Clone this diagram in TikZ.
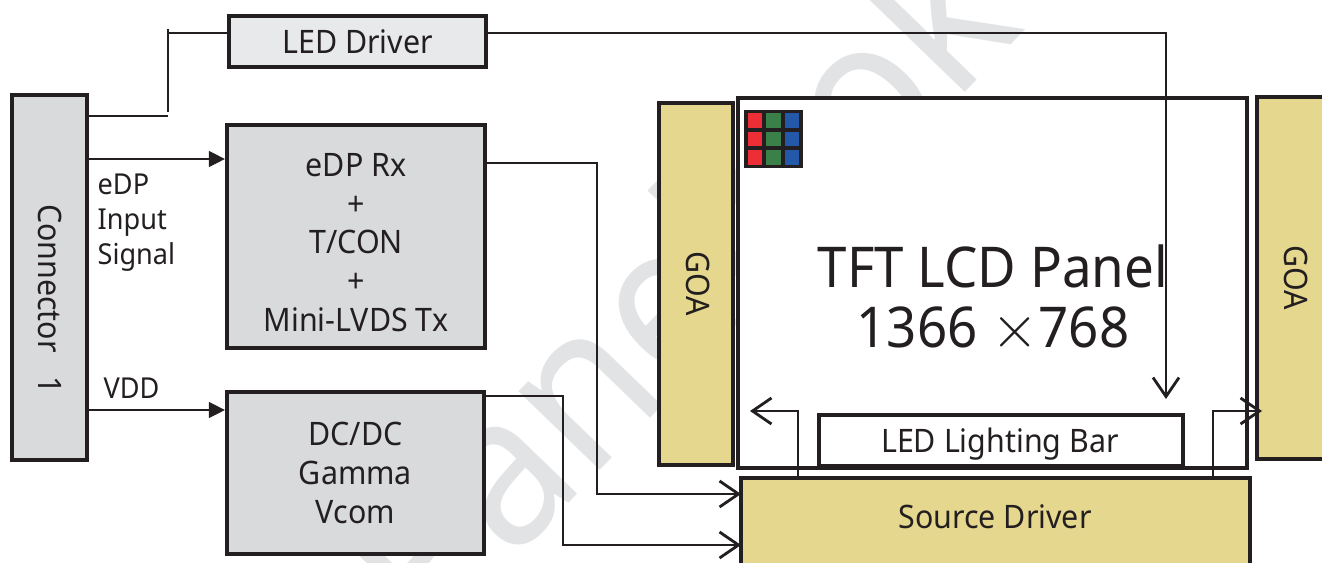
\documentclass[tikz,border=0pt]{standalone}
\usepackage{fontspec}
\usepackage{amsmath}
\setmainfont[FakeStretch=0.94]{Noto Sans}
\usetikzlibrary{arrows.meta}
\definecolor{boxgray}{HTML}{D9DADC}
\definecolor{lightgray}{HTML}{E8E9EB}
\definecolor{goa}{HTML}{E6D78E}
\definecolor{ink}{HTML}{231F20}
\definecolor{mark}{HTML}{E2E3E5}
\definecolor{cellred}{HTML}{EE2E37}
\definecolor{cellgreen}{HTML}{3B8049}
\definecolor{cellblue}{HTML}{2458A8}
\tikzset{
    block/.style={draw=ink, line width=1.1pt, fill=#1, inner sep=0pt, align=center, text=ink},
    wire/.style={draw=ink, line width=.6pt},
    solidtip/.style={wire, line width=.75pt, -{Stealth[length=4.6pt,width=4.4pt,inset=0pt]}},
    opentip/.style={wire, -{Straight Barb[length=5.4pt,width=7.4pt,line width=.8pt]}},
    label/.style={text=ink, font=\fontsize{8.2}{10}\selectfont, inner sep=0pt},
    blocktext/.style={font=\fontsize{9.2}{11}\selectfont},
    plaintext/.style={text=ink, blocktext, inner sep=0pt},
    bigtext/.style={text=ink, font=\fontsize{16}{19}\selectfont, inner sep=0pt},
}
\begin{document}
\begin{tikzpicture}
    \useasboundingbox (0,0) rectangle (13.22,5.62);
    \clip (0,0) rectangle (13.22,5.62);
    \node[text=mark, rotate=46, font=\fontsize{60}{60}\selectfont\bfseries] (wmark) at (6.71,2.78) {Panelook}; % behind everything

    % left column
    \node[block=boxgray, minimum width=.75cm, minimum height=3.65cm] (conn) at (.495,2.845) {};
    \node[plaintext, rotate=-90] (connlabel) at (.5,2.63) {Connector\ \ \ 1};
    \node[block=lightgray, blocktext, minimum width=2.57cm, minimum height=.51cm] (led) at (3.575,5.205) {LED Driver};
    \node[block=boxgray, minimum width=2.58cm, minimum height=2.23cm] (edp) at (3.56,3.255) {};
    \node[plaintext, align=center] (edplabel) at (3.56,3.195) {eDP Rx\\+\\T/CON\\+\\Mini-LVDS Tx};
    \node[block=boxgray, blocktext, minimum width=2.57cm, minimum height=1.62cm] (dcdc) at (3.555,.89) {DC/DC\\Gamma\\Vcom};
    \node[label, anchor=north west, align=left] (signal) at (.97,3.89) {eDP\\Input\\Signal};
    \node[label, anchor=west] (vdd) at (1.03,1.74) {VDD};

    % panel
    \node[block=goa, minimum width=.74cm, minimum height=3.62cm] (goal) at (6.96,2.78) {};
    \node[plaintext, rotate=-90] (goallabel) at (6.98,2.78) {GOA};
    \node[block=white, minimum width=5.09cm, minimum height=3.70cm] (panel) at (9.925,2.79) {};
    \node[block=goa, minimum width=.9cm, minimum height=3.62cm] (goar) at (13.02,2.84) {};
    \node[plaintext, rotate=-90] (goarlabel) at (12.96,2.84) {GOA};
    \node[block=white, minimum width=3.64cm, minimum height=.51cm] (bar) at (10.01,1.215) {};
    \node[plaintext] (barlabel) at (10.0,1.18) {LED Lighting Bar};
    \node[block=goa, minimum width=5.09cm, minimum height=1.2cm] (source) at (9.955,.24) {};
    \node[plaintext] (sourcelabel) at (9.95,.45) {Source Driver};
    \node[bigtext] (title) at (9.93,2.96) {TFT LCD Panel};
    \node[bigtext] (size) at (9.93,2.32) {1366 $\times$768};

    % colour cells
    \foreach \Col/\Shade in {0/cellred, 1/cellgreen, 2/cellblue}{
        \foreach \Row in {0,1,2}{
            \node[draw=ink, line width=1pt, minimum size=.18cm, inner sep=0pt, fill=\Shade] (cell\Col\Row) at (7.55+\Col*.185,4.415-\Row*.185) {};
        }
    }

    % connectors
    \coordinate (kneelow) at (1.68,4.46);
    \coordinate (kneelowtop) at (1.68,4.50);
    \coordinate (kneehigh) at (1.68,5.33);
    \coordinate (kneehighend) at (1.68,5.29);
    \draw[wire] (conn.east |- kneelow) -- (kneelow);
    \draw[wire] (kneelowtop) -- (kneehigh);
    \draw[wire] (kneehighend) -- (led.west |- kneehighend);

    \coordinate (edpin) at (2.27,4.03);
    \coordinate (vddin) at (2.27,1.52);
    \draw[solidtip] (conn.east |- edpin) -- (edp.west |- edpin);
    \draw[solidtip] (conn.east |- vddin) -- (dcdc.west |- vddin);

    \coordinate (ledturn) at (11.66,5.29);
    \coordinate (ledend) at (11.66,1.63);
    \draw[opentip] (led.east |- ledturn) -- (ledturn) -- (ledend);

    \coordinate (edpturn) at (5.97,3.99);
    \coordinate (edpend) at (7.41,.68);
    \draw[opentip] (edp.east |- edpturn) -- (edpturn) |- (edpend);

    \coordinate (dcturn) at (5.63,1.66);
    \coordinate (dcend) at (7.41,.17);
    \draw[opentip] (dcdc.east |- dcturn) -- (dcturn) |- (dcend);

    \coordinate (leftturn) at (7.98,1.51);
    \coordinate (leftend) at (7.5,1.51);
    \draw[opentip] (source.north -| leftturn) -- (leftturn) -- (leftend);

    \coordinate (rightturn) at (12.13,1.51);
    \coordinate (rightend) at (12.62,1.51);
    \draw[opentip] (source.north -| rightturn) -- (rightturn) -- (rightend);
\end{tikzpicture}
\end{document}
